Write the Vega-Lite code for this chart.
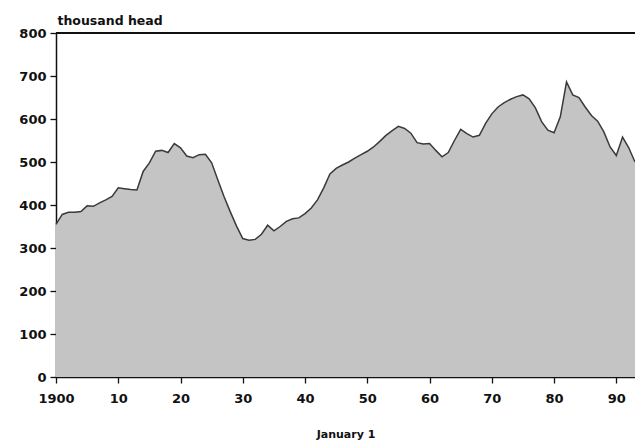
{
  "$schema": "https://vega.github.io/schema/vega-lite/v6.json",
  "width": 579,
  "height": 344,
  "autosize": {"type": "none"},
  "padding": {"left": 56, "top": 33, "right": 0, "bottom": 66},
  "background": "white",
  "config": {
    "view": {"stroke": null},
    "axis": {"labelFont": "DejaVu Sans", "labelFontWeight": "bold", "labelColor": "#111", "titleFont": "DejaVu Sans", "titleColor": "#111", "grid": false, "domainColor": "#111", "tickColor": "#111"}
  },
  "data": {"values": [
    {"year": 1900, "head": 355}, {"year": 1901, "head": 378}, {"year": 1902, "head": 383}, {"year": 1903, "head": 383},
    {"year": 1904, "head": 385}, {"year": 1905, "head": 398}, {"year": 1906, "head": 397}, {"year": 1907, "head": 405},
    {"year": 1908, "head": 412}, {"year": 1909, "head": 420}, {"year": 1910, "head": 440}, {"year": 1911, "head": 438},
    {"year": 1912, "head": 436}, {"year": 1913, "head": 435}, {"year": 1914, "head": 478}, {"year": 1915, "head": 498},
    {"year": 1916, "head": 525}, {"year": 1917, "head": 527}, {"year": 1918, "head": 522}, {"year": 1919, "head": 543},
    {"year": 1920, "head": 533}, {"year": 1921, "head": 514}, {"year": 1922, "head": 510}, {"year": 1923, "head": 517},
    {"year": 1924, "head": 518}, {"year": 1925, "head": 498}, {"year": 1926, "head": 458}, {"year": 1927, "head": 419},
    {"year": 1928, "head": 384}, {"year": 1929, "head": 351}, {"year": 1930, "head": 322}, {"year": 1931, "head": 318},
    {"year": 1932, "head": 320}, {"year": 1933, "head": 332}, {"year": 1934, "head": 353}, {"year": 1935, "head": 340},
    {"year": 1936, "head": 350}, {"year": 1937, "head": 362}, {"year": 1938, "head": 368}, {"year": 1939, "head": 370},
    {"year": 1940, "head": 380}, {"year": 1941, "head": 393}, {"year": 1942, "head": 412}, {"year": 1943, "head": 440},
    {"year": 1944, "head": 472}, {"year": 1945, "head": 485}, {"year": 1946, "head": 493}, {"year": 1947, "head": 500},
    {"year": 1948, "head": 509}, {"year": 1949, "head": 517}, {"year": 1950, "head": 525}, {"year": 1951, "head": 535},
    {"year": 1952, "head": 548}, {"year": 1953, "head": 562}, {"year": 1954, "head": 573}, {"year": 1955, "head": 583},
    {"year": 1956, "head": 578}, {"year": 1957, "head": 567}, {"year": 1958, "head": 545}, {"year": 1959, "head": 542},
    {"year": 1960, "head": 543}, {"year": 1961, "head": 527}, {"year": 1962, "head": 512}, {"year": 1963, "head": 522},
    {"year": 1964, "head": 550}, {"year": 1965, "head": 576}, {"year": 1966, "head": 566}, {"year": 1967, "head": 558},
    {"year": 1968, "head": 562}, {"year": 1969, "head": 590}, {"year": 1970, "head": 612}, {"year": 1971, "head": 628},
    {"year": 1972, "head": 638}, {"year": 1973, "head": 646}, {"year": 1974, "head": 652}, {"year": 1975, "head": 656},
    {"year": 1976, "head": 647}, {"year": 1977, "head": 626}, {"year": 1978, "head": 594}, {"year": 1979, "head": 574},
    {"year": 1980, "head": 568}, {"year": 1981, "head": 605}, {"year": 1982, "head": 686}, {"year": 1983, "head": 656},
    {"year": 1984, "head": 650}, {"year": 1985, "head": 628}, {"year": 1986, "head": 608}, {"year": 1987, "head": 595},
    {"year": 1988, "head": 570}, {"year": 1989, "head": 535}, {"year": 1990, "head": 515}, {"year": 1991, "head": 558},
    {"year": 1992, "head": 533}, {"year": 1993, "head": 500}
  ]},
  "layer": [
    {
      "mark": {"type": "area", "color": "#c4c4c4", "opacity": 1, "fillOpacity": 1, "line": {"color": "#3a3a3a", "strokeWidth": 1.5}},
      "encoding": {
        "x": {"field": "year", "type": "quantitative",
          "scale": {"domain": [1900, 1993], "nice": false, "zero": false},
          "axis": {"values": [1900, 1910, 1920, 1930, 1940, 1950, 1960, 1970, 1980, 1990],
            "labelExpr": "datum.value == 1900 ? '1900' : format(datum.value - 1900, 'd')",
            "labelFontSize": 13, "labelPadding": 9, "tickSize": 6, "tickWidth": 1.3, "domainWidth": 1.5,
            "title": "January 1", "titleFontSize": 11, "titleFontWeight": "bold", "titlePadding": 23, "labelFlush": false}},
        "y": {"field": "head", "type": "quantitative",
          "scale": {"domain": [0, 800], "nice": false},
          "axis": {"values": [0, 100, 200, 300, 400, 500, 600, 700, 800], "labelFontSize": 13, "labelPadding": 4,
            "tickSize": 6, "tickWidth": 1.3, "domainWidth": 1.5,
            "title": "thousand head", "titleAngle": 0, "titleAlign": "left", "titleBaseline": "alphabetic",
            "titleX": 1, "titleY": -9, "titleFontSize": 12.5, "titleFontWeight": "bold"}}
      }
    },
    {
      "mark": {"type": "rule", "color": "#111", "strokeWidth": 1.5},
      "encoding": {
        "y": {"datum": 800},
        "x": {"datum": 1900, "type": "quantitative", "axis": {"orient": "bottom", "values": [1900,1901,1902,1903,1904,1905,1906,1907,1908,1909,1910,1911,1912,1913,1914,1915,1916,1917,1918,1919,1920,1921,1922,1923,1924,1925,1926,1927,1928,1929,1930,1931,1932,1933,1934,1935,1936,1937,1938,1939,1940,1941,1942,1943,1944,1945,1946,1947,1948,1949,1950,1951,1952,1953,1954,1955,1956,1957,1958,1959,1960,1961,1962,1963,1964,1965,1966,1967,1968,1969,1970,1971,1972,1973,1974,1975,1976,1977,1978,1979,1980,1981,1982,1983,1984,1985,1986,1987,1988,1989,1990,1991,1992,1993], "labels": false, "domain": false, "tickSize": -4, "tickWidth": 1, "title": null}},
        "x2": {"datum": 1993}
      }
    }
  ],
  "resolve": {"axis": {"x": "independent"}}
}
